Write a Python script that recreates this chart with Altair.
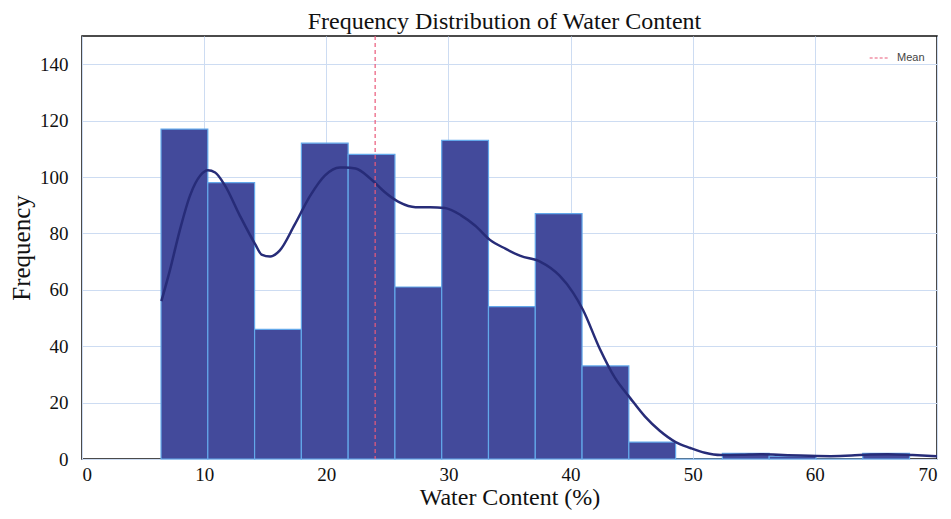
import altair as alt
import pandas as pd

# histogram bins
bin_start = [6.47, 10.30, 14.13, 17.96, 21.79, 25.62, 29.45, 33.28, 37.11,
             40.94, 44.77, 48.60, 52.43, 56.26, 60.09, 63.92]
bin_width = 3.83
counts = [117, 98, 46, 112, 108, 61, 113, 54, 87, 33, 6, 0, 2, 1, 0, 2]

# KDE curve
kde_x = [6.5, 7.2, 8.0, 8.85, 9.7, 10.3, 10.9, 11.7, 12.9, 14.2, 14.7, 15.4, 16.2,
         17.4, 18.7, 19.9, 21.1, 21.5, 22.4, 23.6, 24.8, 26.0, 27.3, 28.5, 29.7,
         31.0, 32.2, 33.4, 34.7, 35.9, 37.5, 39.1, 40.2, 41.0, 42.4, 43.6, 44.9,
         46.1, 47.3, 48.6, 49.8, 51.0, 52.3, 54.0, 55.5, 57.0, 58.8, 61.3, 63.0,
         64.5, 66.0, 68.0, 70.0]
kde_y = [56, 67, 81, 93.5, 100.6, 102.4, 101.6, 97, 86.5, 76, 72.5, 71.8, 74,
         83, 93.5, 100.6, 103.4, 103.4, 103, 99.5, 94.6, 91, 89.3, 89.3, 89,
         86.5, 82.7, 77.7, 74.5, 72, 70, 65, 59, 53, 39, 29, 21.5,
         15, 10, 6, 3.9, 2.2, 1.4, 1.5, 1.7, 1.5, 1.2, 1.0, 1.2,
         1.6, 1.7, 1.4, 1.0]

mean_value = 24.0

bars = pd.DataFrame({
    "start": bin_start,
    "end": [s + bin_width for s in bin_start],
    "count": counts,
})
kde = pd.DataFrame({"x": kde_x, "y": kde_y})
mean_df = pd.DataFrame({"x": [mean_value], "label": ["Mean"]})

serif = "Liberation Serif"

xscale = alt.Scale(domain=[0, 70], nice=False, zero=False)
yscale = alt.Scale(domain=[0, 150], nice=False)

x_axis = alt.Axis(title="Water Content (%)", values=list(range(0, 71, 10)),
                  labelFont=serif, labelFontSize=19, labelColor="#111",
                  titleFont=serif, titleFontSize=24, titleFontWeight="normal",
                  titleColor="#111", titleY=26, labelPadding=6,
                  ticks=False, domain=False, grid=True, gridColor="#cddcf2",
                  gridWidth=1)
y_axis = alt.Axis(title="Frequency", values=list(range(0, 141, 20)),
                  labelFont=serif, labelFontSize=19, labelColor="#111",
                  titleFont=serif, titleFontSize=25, titleFontWeight="normal",
                  titleColor="#111", titleX=-48, labelPadding=14,
                  ticks=False, domain=False, grid=True, gridColor="#cddcf2",
                  gridWidth=1)

hist = alt.Chart(bars).mark_rect(
    color="#434a9b", stroke="#63a8ea", strokeWidth=1.2, opacity=1
).encode(
    x=alt.X("start:Q", scale=xscale, axis=x_axis),
    x2="end:Q",
    y=alt.Y("count:Q", scale=yscale, axis=y_axis),
    y2=alt.datum(0),
)

curve = alt.Chart(kde).mark_line(
    color="#272c78", strokeWidth=2.5, interpolate="monotone"
).encode(
    x=alt.X("x:Q", scale=xscale),
    y=alt.Y("y:Q", scale=yscale),
)

mean_rule = alt.Chart(mean_df).mark_rule(
    strokeDash=[4, 3], strokeWidth=1.2
).encode(
    x=alt.X("x:Q", scale=xscale),
    color=alt.Color("label:N",
                    scale=alt.Scale(domain=["Mean"], range=["#ea5a7a"]),
                    legend=alt.Legend(title=None, orient="top-right",
                                      symbolType="stroke", symbolDash=[3, 2],
                                      symbolStrokeWidth=1.2, symbolSize=350,
                                      labelFont="Liberation Sans",
                                      labelFontSize=11, labelColor="#444",
                                      labelOffset=8, offset=12)),
)

chart = alt.layer(hist, curve, mean_rule).properties(
    width=855, height=423,
    title=alt.TitleParams("Frequency Distribution of Water Content",
                          font=serif, fontSize=24, fontWeight="normal",
                          color="#111", offset=1, dx=-5),
    autosize=alt.AutoSizeParams(type="none"),
    padding={"left": 74, "top": 28, "right": 6, "bottom": 52},
).configure_view(
    stroke="#111", strokeWidth=1.5
)

chart.save("out.html", embed_options={"renderer": "svg", "actions": False})
